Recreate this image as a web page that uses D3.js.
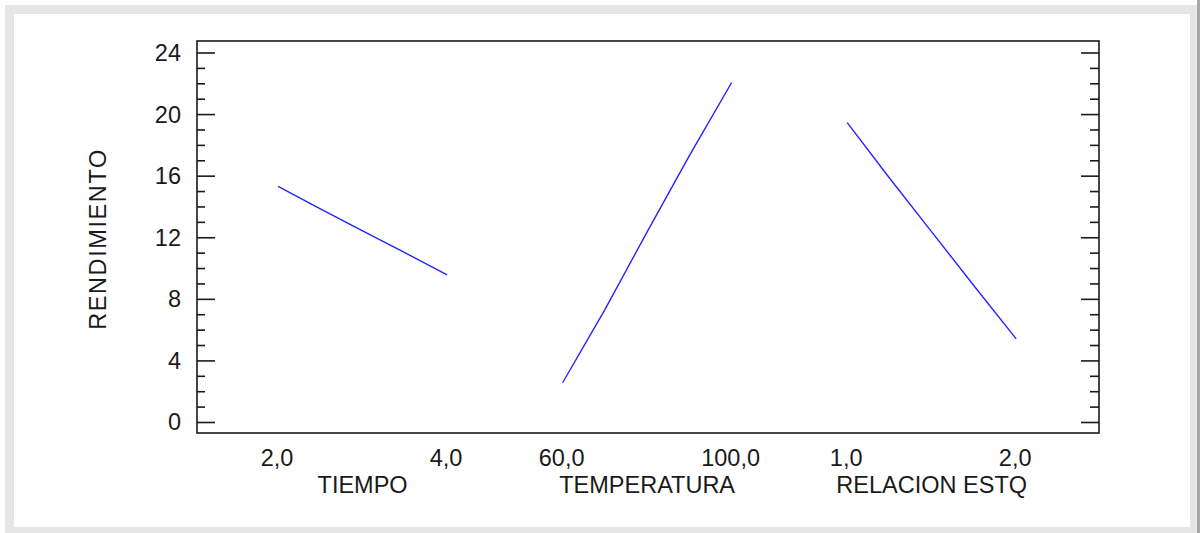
<!DOCTYPE html>
<html>
<head>
<meta charset="utf-8">
<script src="https://cdn.jsdelivr.net/npm/d3@7"></script>
<style>
  body { margin: 0; background: #fff; }
  text { font-family: "Liberation Sans", Arial, sans-serif; fill: #1a1a1a; }
</style>
</head>
<body>
<script>
// factors and their low/high levels
const factors = ["TIEMPO", "TEMPERATURA", "RELACION ESTQ"];
const lowLabels = ["2,0", "60,0", "1,0"];
const highLabels = ["4,0", "100,0", "2,0"];

// main effect curves, 5 points from low to high level
const tiempo = [15.3, 13.85, 12.42, 11.0, 9.55];
const temperatura = [2.55, 7.3, 12.35, 17.3, 22.05];
const relacion = [19.45, 15.85, 12.35, 8.85, 5.4];
const series = [tiempo, temperatura, relacion];

const yTicks = [0, 4, 8, 12, 16, 20, 24];

const width = 1200, height = 533;
const plot = { left: 197, right: 1099, top: 41, bottom: 433 };
const segW = 0.594; // share of a factor slot taken by its line
const fs = 23.5;

const svg = d3.select("body").append("svg")
  .attr("width", width)
  .attr("height", height);

// grey frame round the picture
svg.append("rect").attr("x", 0).attr("y", 0).attr("width", width).attr("height", height).attr("fill", "#fff");
svg.append("rect").attr("x", 5).attr("y", 5).attr("width", 1192).attr("height", 540).attr("fill", "#e6e6e6");
svg.append("rect").attr("x", 1197).attr("y", 0).attr("width", 3).attr("height", height).attr("fill", "#a8a8a8");
svg.append("rect").attr("x", 14).attr("y", 14).attr("width", 1176).attr("height", 513).attr("fill", "#fff");

const x = d3.scaleLinear()
  .domain([-0.285, 2.885])
  .range([plot.left, plot.right]);

const y = d3.scaleLinear()
  .domain([0, 24])
  .range([422, 52.5]);

// minor ticks every unit, major every 4
const minor = d3.range(0, 25).filter(function (d) { return d % 4 !== 0; });

const leftMajor = d3.axisRight(y).tickValues(yTicks).tickSize(18).tickFormat("");
const leftMinor = d3.axisRight(y).tickValues(minor).tickSize(8).tickFormat("");
const rightMajor = d3.axisLeft(y).tickValues(yTicks).tickSize(18).tickFormat("");
const rightMinor = d3.axisLeft(y).tickValues(minor).tickSize(9).tickFormat("");

[[leftMajor, plot.left], [leftMinor, plot.left], [rightMajor, plot.right], [rightMinor, plot.right]]
  .forEach(function (a) {
    const g = svg.append("g")
      .attr("transform", "translate(" + a[1] + ",0)")
      .call(a[0]);
    g.select(".domain").remove();
    g.selectAll("line").attr("stroke", "#1a1a1a").attr("stroke-width", 1.6);
  });

svg.append("rect")
  .attr("x", plot.left).attr("y", plot.top)
  .attr("width", plot.right - plot.left)
  .attr("height", plot.bottom - plot.top)
  .attr("fill", "none")
  .attr("stroke", "#1a1a1a")
  .attr("stroke-width", 1.6);

// y tick labels
svg.append("g").selectAll("text")
  .data(yTicks)
  .enter()
  .append("text")
  .attr("x", 181)
  .attr("y", function (d) { return y(d); })
  .attr("dy", "0.36em")
  .attr("text-anchor", "end")
  .attr("font-size", fs)
  .text(function (d) { return d; });

svg.append("text")
  .attr("transform", "translate(106,239) rotate(-90)")
  .attr("text-anchor", "middle")
  .attr("font-size", fs)
  .attr("letter-spacing", 1.6)
  .text("RENDIMIENTO");

const line = d3.line()
  .x(function (d) { return x(d.u); })
  .y(function (d) { return y(d.v); });

series.forEach(function (vals, i) {
  const pts = vals.map(function (v, k) {
    return { u: i + segW * k / (vals.length - 1), v: v };
  });
  svg.append("path")
    .datum(pts)
    .attr("d", line)
    .attr("fill", "none")
    .attr("stroke", "#2424ff")
    .attr("stroke-width", 1.4);

  svg.append("text")
    .attr("x", x(i) - 1)
    .attr("y", 466)
    .attr("text-anchor", "middle")
    .attr("font-size", fs)
    .text(lowLabels[i]);

  svg.append("text")
    .attr("x", x(i + segW) - 1)
    .attr("y", 466)
    .attr("text-anchor", "middle")
    .attr("font-size", fs)
    .text(highLabels[i]);

  svg.append("text")
    .attr("x", x(i + segW / 2))
    .attr("y", 493)
    .attr("text-anchor", "middle")
    .attr("font-size", fs)
    .text(factors[i]);
});
</script>
</body>
</html>
